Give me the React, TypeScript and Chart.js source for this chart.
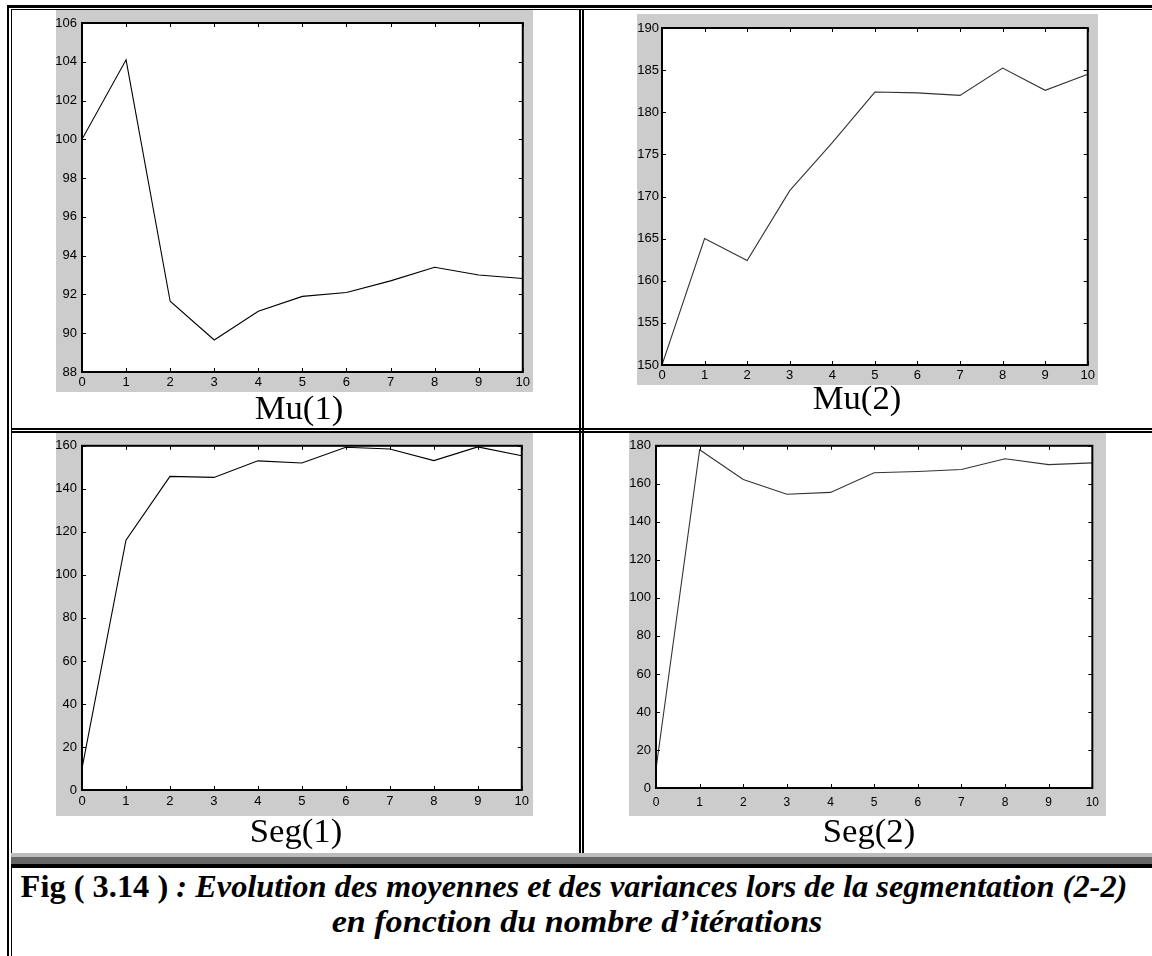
import React, { useEffect, useRef } from "react";
import { Chart, registerables } from "chart.js";

Chart.register(...registerables);

// ---------- data ----------
const ITERATIONS = [0, 1, 2, 3, 4, 5, 6, 7, 8, 9, 10];
const MU1 = [100, 104.1, 91.65, 89.65, 91.13, 91.9, 92.1, 92.7, 93.4, 93.0, 92.82];
const MU2 = [150, 165.0, 162.4, 170.7, 176.4, 182.4, 182.3, 182.0, 185.25, 182.6, 184.5];
const SEG1 = [10, 116.1, 145.8, 145.3, 153, 152, 159.3, 158.5, 153.1, 159.5, 155.4];
const SEG2 = [10, 177.9, 162.3, 154.5, 155.5, 165.8, 166.5, 167.5, 173.2, 170.1, 171.0];

const MU1_TICKS = [88, 90, 92, 94, 96, 98, 100, 102, 104, 106];
const MU2_TICKS = [150, 155, 160, 165, 170, 175, 180, 185, 190];
const SEG1_TICKS = [0, 20, 40, 60, 80, 100, 120, 140, 160];
const SEG2_TICKS = [0, 20, 40, 60, 80, 100, 120, 140, 160, 180];

const TITLES = ["Mu(1)", "Mu(2)", "Seg(1)", "Seg(2)"];
const CAPTION_BOLD = "Fig ( 3.14 )";
const CAPTION_LINE1 = " : Evolution des moyennes et des variances lors de la segmentation (2-2)";
const CAPTION_LINE2 = "en fonction du nombre d\u2019it\u00e9rations";

// ---------- layout ----------
type PlotCfg = {
  left: number; top: number; width: number; height: number;
  yW: number; padTop: number; padRight: number; xH: number;
  ticks: number[]; values: number[]; color: string;
  xPad: number; yPad: number; xFont: number; yFont: number;
};

const PLOTS: PlotCfg[] = [
  { left: 56, top: 10, width: 477, height: 382, yW: 26, padTop: 13, padRight: 7, xH: 20,
    ticks: MU1_TICKS, values: MU1, color: "#000", xPad: 3, yPad: 5, xFont: 13, yFont: 13 },
  { left: 637, top: 14, width: 461, height: 371, yW: 25, padTop: 14, padRight: 7, xH: 20,
    ticks: MU2_TICKS, values: MU2, color: "#333", xPad: 3, yPad: 3, xFont: 13, yFont: 13 },
  { left: 56, top: 433, width: 477, height: 383, yW: 26, padTop: 7, padRight: 7, xH: 26,
    ticks: SEG1_TICKS, values: SEG1, color: "#000", xPad: 4, yPad: 5, xFont: 13, yFont: 13 },
  { left: 629, top: 433, width: 477, height: 383, yW: 27, padTop: 9, padRight: 8, xH: 28,
    ticks: SEG2_TICKS, values: SEG2, color: "#333", xPad: 7, yPad: 5, xFont: 12, yFont: 13 },
];

const TITLE_POS = [
  { cx: 299, base: 420 },
  { cx: 857, base: 410 },
  { cx: 296, base: 843 },
  { cx: 869, base: 843 },
];

const framePlugin = {
  id: "matlabFrame",
  beforeDraw(chart: any) {
    const { ctx, chartArea: a, width, height } = chart;
    ctx.save();
    ctx.fillStyle = "#cccccc";
    ctx.fillRect(0, 0, width, height);
    ctx.fillStyle = "#ffffff";
    ctx.fillRect(a.left, a.top, a.right - a.left, a.bottom - a.top);
    ctx.restore();
  },
  afterDraw(chart: any) {
    const { ctx, chartArea: a } = chart;
    const xs = chart.scales.x;
    const ys = chart.scales.y;
    ctx.save();
    ctx.strokeStyle = "#000";
    ctx.lineWidth = 1;
    ctx.beginPath();
    for (const t of xs.ticks) {
      const px = Math.round(xs.getPixelForValue(t.value)) + 0.5;
      ctx.moveTo(px, a.bottom);
      ctx.lineTo(px, a.bottom - 4);
      ctx.moveTo(px, a.top);
      ctx.lineTo(px, a.top + 4);
    }
    for (const t of ys.ticks) {
      const py = Math.round(ys.getPixelForValue(t.value)) + 0.5;
      ctx.moveTo(a.left, py);
      ctx.lineTo(a.left + 4, py);
      ctx.moveTo(a.right, py);
      ctx.lineTo(a.right - 4, py);
    }
    ctx.stroke();
    ctx.lineWidth = 2;
    ctx.strokeRect(a.left, a.top, a.right - a.left, a.bottom - a.top);
    ctx.restore();
  },
};

function Plot({ cfg }: { cfg: PlotCfg }) {
  const ref = useRef<HTMLCanvasElement | null>(null);
  useEffect(() => {
    if (!ref.current) return;
    const font = "'Liberation Sans', Arial, Helvetica, sans-serif";
    const chart = new Chart(ref.current, {
      type: "line",
      data: {
        datasets: [
          {
            data: ITERATIONS.map((x, i) => ({ x, y: cfg.values[i] })),
            borderColor: cfg.color,
            borderWidth: 1.1,
            pointRadius: 0,
            tension: 0,
            fill: false,
          },
        ],
      },
      options: {
        animation: false,
        responsive: false,
        maintainAspectRatio: false,
        devicePixelRatio: 1,
        events: [],
        layout: { autoPadding: false, padding: { top: cfg.padTop, right: cfg.padRight, left: 0, bottom: 0 } },
        plugins: { legend: { display: false }, tooltip: { enabled: false }, title: { display: false } },
        scales: {
          x: {
            type: "linear",
            min: ITERATIONS[0],
            max: ITERATIONS[ITERATIONS.length - 1],
            afterBuildTicks: (s: any) => { s.ticks = ITERATIONS.map((v) => ({ value: v })); },
            afterFit: (s: any) => { s.height = cfg.xH; },
            ticks: { autoSkip: false, maxRotation: 0, padding: cfg.xPad, color: "#000", font: { family: font, size: cfg.xFont } },
            grid: { display: false, drawTicks: false },
            border: { display: false },
          },
          y: {
            type: "linear",
            min: cfg.ticks[0],
            max: cfg.ticks[cfg.ticks.length - 1],
            afterBuildTicks: (s: any) => { s.ticks = cfg.ticks.map((v) => ({ value: v })); },
            afterFit: (s: any) => { s.width = cfg.yW; },
            ticks: { autoSkip: false, padding: cfg.yPad, color: "#000", font: { family: font, size: cfg.yFont } },
            grid: { display: false, drawTicks: false },
            border: { display: false },
          },
        },
      } as any,
      plugins: [framePlugin],
    });
    return () => chart.destroy();
  }, [cfg]);
  return (
    <canvas
      ref={ref}
      width={cfg.width}
      height={cfg.height}
      style={{ position: "absolute", left: cfg.left, top: cfg.top, width: cfg.width, height: cfg.height }}
    />
  );
}

function Rect({ x, y, w, h, c = "#000" }: { x: number; y: number; w: number; h: number; c?: string }) {
  return <div style={{ position: "absolute", left: x, top: y, width: w, height: h, background: c }} />;
}

export default function App() {
  const serif = "'Liberation Serif', 'Times New Roman', Times, serif";
  const TF = 33;
  const CF = 31;
  return (
    <div style={{ position: "absolute", left: 0, top: 0, width: 1152, height: 956, overflow: "hidden", background: "#fff" }}>
      {/* outer borders */}
      <Rect x={7} y={5} w={1145} h={3} />
      <Rect x={11} y={9} w={1141} h={1} />
      <Rect x={7} y={5} w={2} h={951} />
      <Rect x={11} y={9} w={1} h={947} />
      {/* middle vertical divider */}
      <Rect x={579} y={9} w={2} h={844} />
      <Rect x={582} y={9} w={2} h={844} />
      {/* horizontal divider */}
      <Rect x={11} y={428} w={1141} h={2} />
      <Rect x={11} y={431} w={1141} h={2} />
      {/* separator above caption */}
      <Rect x={11} y={853} w={1141} h={4} c="#bdbdbd" />
      <Rect x={11} y={857} w={1141} h={7} c="#666666" />
      <Rect x={11} y={864} w={1141} h={4} c="#000" />

      {PLOTS.map((p, i) => (
        <Plot key={i} cfg={p} />
      ))}

      {TITLES.map((t, i) => (
        <div
          key={t}
          style={{
            position: "absolute",
            left: TITLE_POS[i].cx,
            top: TITLE_POS[i].base - 0.8375 * TF,
            transform: "translateX(-50%) scaleX(1.05)",
            fontFamily: serif,
            fontSize: TF,
            lineHeight: `${TF}px`,
            whiteSpace: "nowrap",
            color: "#000",
          }}
        >
          {t}
        </div>
      ))}

      <div
        style={{
          position: "absolute",
          left: 574,
          top: 897 - 0.8375 * CF,
          transform: "translateX(-50%) scaleX(1.045)",
          fontFamily: serif,
          fontSize: CF,
          lineHeight: `${CF}px`,
          fontWeight: "bold",
          whiteSpace: "nowrap",
          color: "#000",
        }}
      >
        <span>{CAPTION_BOLD}</span>
        <span style={{ fontStyle: "italic" }}>{CAPTION_LINE1}</span>
      </div>
      <div
        style={{
          position: "absolute",
          left: 577,
          top: 932 - 0.8375 * CF,
          transform: "translateX(-50%) scaleX(1.1)",
          fontFamily: serif,
          fontSize: CF,
          lineHeight: `${CF}px`,
          fontWeight: "bold",
          fontStyle: "italic",
          whiteSpace: "nowrap",
          color: "#000",
        }}
      >
        {CAPTION_LINE2}
      </div>
    </div>
  );
}
